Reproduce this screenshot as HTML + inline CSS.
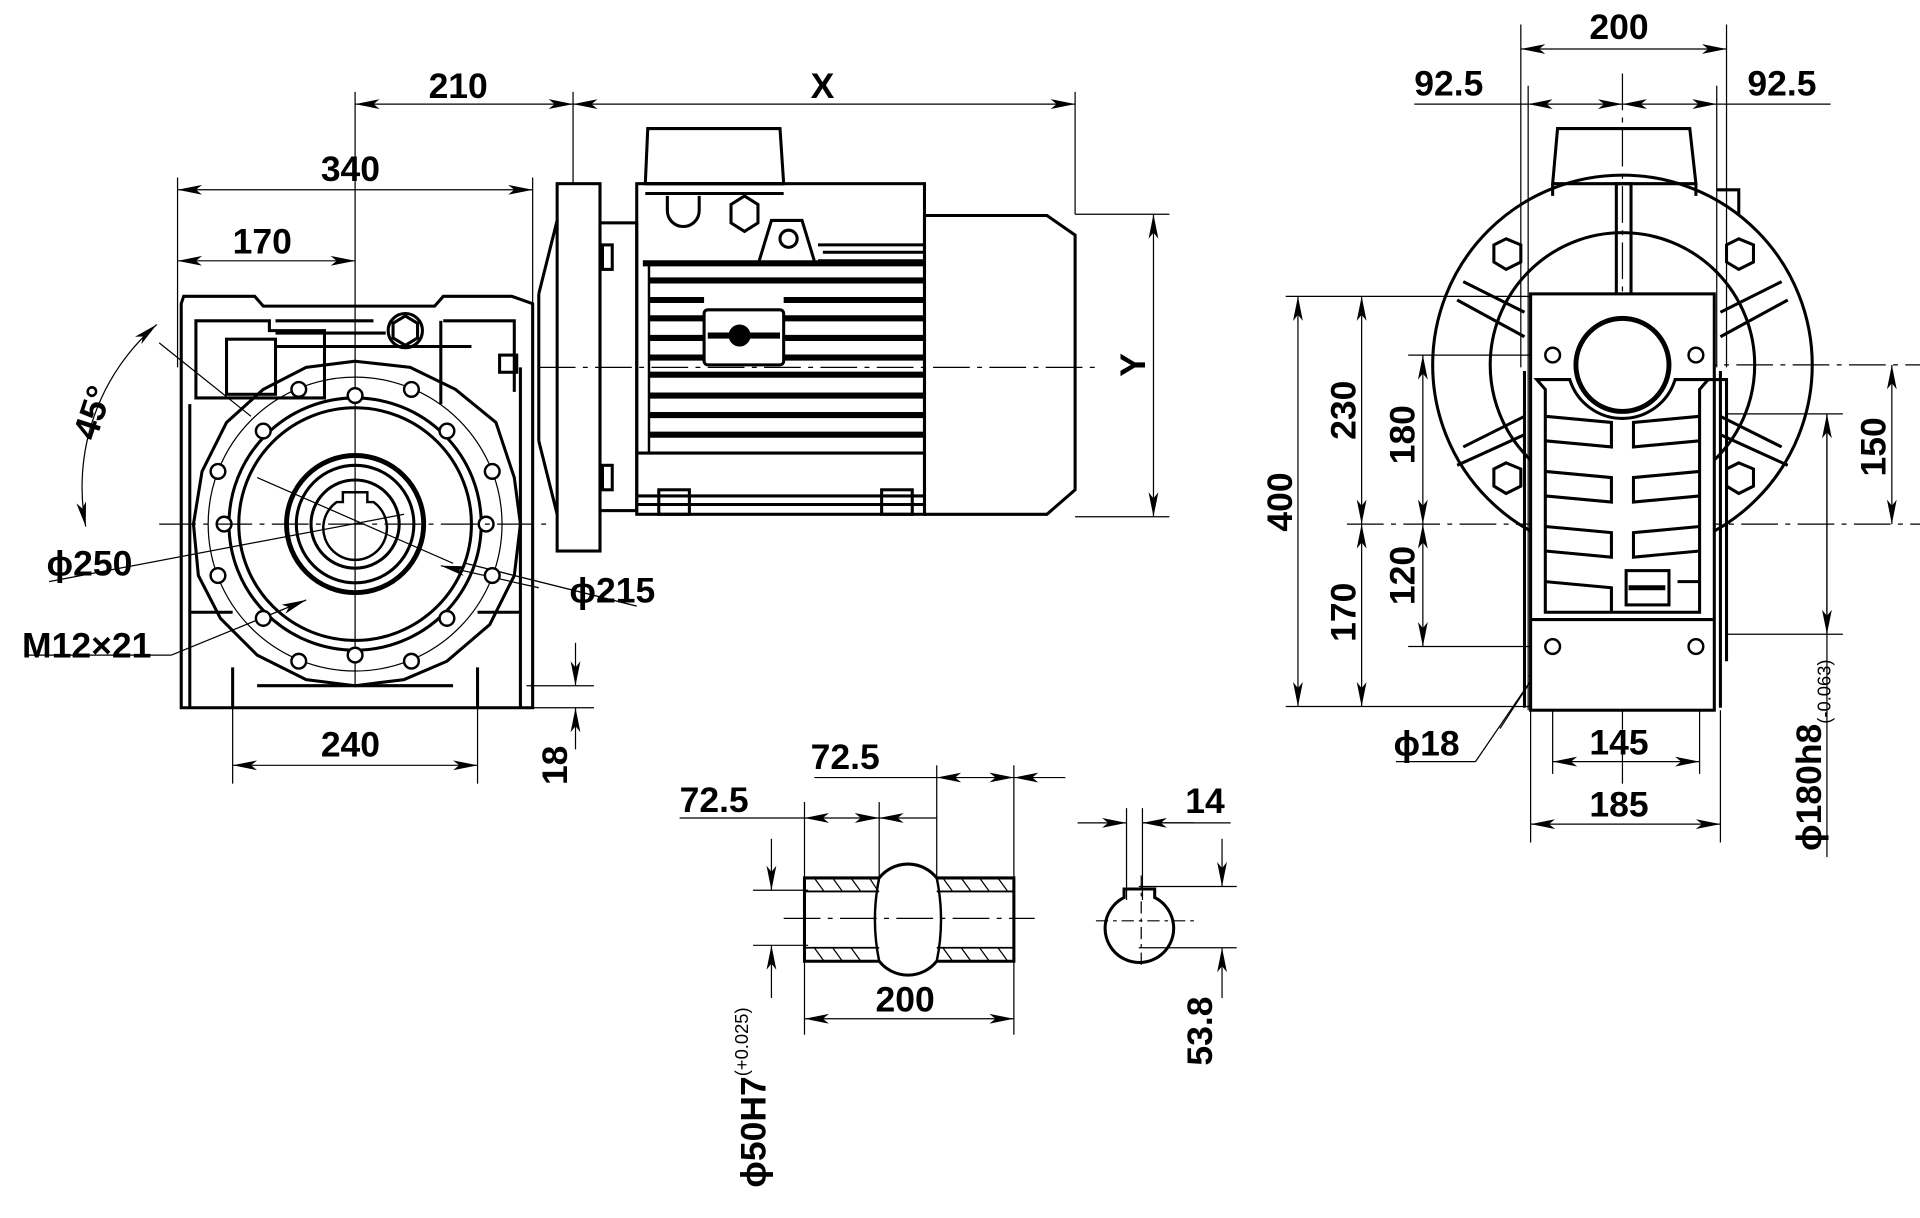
<!DOCTYPE html>
<html><head><meta charset="utf-8"><style>html,body{margin:0;padding:0;background:#fff}svg{display:block}text{font-family:"Liberation Sans",Arial,sans-serif;font-weight:bold;fill:#000}</style></head><body>
<svg width="1920" height="1218" viewBox="0 0 1568 994.7" preserveAspectRatio="none" xmlns="http://www.w3.org/2000/svg">
<defs>
<marker id="a" viewBox="0 0 20 8" refX="20" refY="4" markerWidth="20" markerHeight="8" orient="auto-start-reverse" markerUnits="userSpaceOnUse"><path d="M0,0 L20,4 L0,8 L5,4z" fill="#000"/></marker>
</defs>
<g fill="none" stroke="#000" stroke-width="1">
<line x1="145" y1="145" x2="145" y2="300"/><line x1="435" y1="145" x2="435" y2="250"/>
<line x1="145" y1="155" x2="435" y2="155" marker-start="url(#a)" marker-end="url(#a)"/>
<line x1="145" y1="213" x2="290" y2="213" marker-start="url(#a)" marker-end="url(#a)"/>
<line x1="290" y1="75" x2="290" y2="560"/>
<line x1="468" y1="75" x2="468" y2="150"/><line x1="878" y1="75" x2="878" y2="175"/>
<line x1="290" y1="85" x2="468" y2="85" marker-start="url(#a)" marker-end="url(#a)"/>
<line x1="468" y1="85" x2="878" y2="85" marker-start="url(#a)" marker-end="url(#a)"/>
<line x1="190" y1="578" x2="190" y2="640"/><line x1="390" y1="578" x2="390" y2="640"/>
<line x1="190" y1="625" x2="390" y2="625" marker-start="url(#a)" marker-end="url(#a)"/>
<line x1="430" y1="560" x2="485" y2="560"/><line x1="430" y1="578" x2="485" y2="578"/>
<line x1="470" y1="525" x2="470" y2="560" marker-end="url(#a)"/><line x1="470" y1="612" x2="470" y2="578" marker-end="url(#a)"/>
<line x1="878" y1="175" x2="955" y2="175"/><line x1="878" y1="422" x2="955" y2="422"/>
<line x1="942" y1="175" x2="942" y2="422" marker-start="url(#a)" marker-end="url(#a)"/>
<path d="M128,265 A175,175 0 0 0 70,430" marker-start="url(#a)" marker-end="url(#a)"/>
<line x1="130" y1="280" x2="205" y2="340"/>
<line x1="40" y1="475" x2="330" y2="420"/>
<line x1="20" y1="535" x2="140" y2="535"/><line x1="140" y1="535" x2="250" y2="490" marker-end="url(#a)"/>
<line x1="520" y1="495" x2="380" y2="460" /><line x1="440" y1="480" x2="360" y2="462" marker-end="url(#a)"/>
<line x1="210" y1="390" x2="370" y2="460"/>
</g>
<g fill="none" stroke="#000" stroke-width="2.5">
<path d="M148,248 L148,578 L435,578 L435,248 L418,242 L362,242 L355,250 L215,250 L208,242 L150,242z"/>
<path d="M160,262 L160,325 L265,325 L265,270 L220,270 L220,262z"/>
<rect x="185" y="277" width="40" height="45"/>
<path d="M225,262 L305,262 M225,272 L315,272 M225,283 L385,283 M360,262 L360,330 M362,262 L420,262 L420,320"/>
<circle cx="331" cy="270" r="14"/><polygon points="331,258 341,264 341,276 331,282 321,276 321,264"/>
<rect x="408" y="290" width="14" height="14"/>
<path d="M155,330 L155,578 M155,500 L190,500 M425,300 L425,578 M390,500 L425,500 M190,545 L190,578 M390,545 L390,578 M210,560 L370,560"/>
<path d="M290,295 L335,300 L372,318 L405,345 L420,390 L425,428 L420,470 L400,510 L365,540 L330,555 L290,560 L250,555 L210,535 L180,505 L162,470 L158,428 L165,385 L185,345 L215,318 L250,300z"/>
<circle cx="290" cy="428" r="120" stroke-width="1"/>
<circle cx="290" cy="428" r="103"/><circle cx="290" cy="428" r="95"/>
<circle cx="290" cy="428" r="56" stroke-width="4"/><circle cx="290" cy="428" r="48"/><circle cx="290" cy="428" r="36"/>
<path d="M275,410 A26,26 0 1 0 305,410 L300,410 L300,402 L280,402 L280,410z" stroke-width="2"/>
</g>
<g fill="#fff" stroke="#000" stroke-width="2">
<circle cx="290" cy="323" r="6"/><circle cx="244" cy="318" r="6"/><circle cx="336" cy="318" r="6"/>
<circle cx="215" cy="352" r="6"/><circle cx="365" cy="352" r="6"/>
<circle cx="178" cy="385" r="6"/><circle cx="402" cy="385" r="6"/>
<circle cx="183" cy="428" r="6"/><circle cx="397" cy="428" r="6"/>
<circle cx="178" cy="470" r="6"/><circle cx="402" cy="470" r="6"/>
<circle cx="215" cy="505" r="6"/><circle cx="365" cy="505" r="6"/>
<circle cx="244" cy="540" r="6"/><circle cx="290" cy="535" r="6"/><circle cx="336" cy="540" r="6"/>
</g>
<g stroke="#000" stroke-width="1" stroke-dasharray="30,6,4,6"><line x1="130" y1="428" x2="450" y2="428"/></g>
<g fill="none" stroke="#000" stroke-width="2.5">
<rect x="455" y="150" width="35" height="300"/>
<path d="M440,240 L455,180 M440,360 L455,420 M440,240 L440,360"/>
<rect x="490" y="182" width="30" height="235"/>
<rect x="492" y="200" width="8" height="20"/><rect x="492" y="380" width="8" height="20"/>
<path d="M529,105 L637,105 L640,150 L527,150z"/>
<rect x="520" y="150" width="235" height="270"/>
<path d="M527,150 L640,150 M527,158 L640,158"/>
<path d="M545,160 L545,172 A13,13 0 0 0 571,172 L571,160"/>
<polygon points="608,160 619,167 619,182 608,189 597,182 597,167"/>
<path d="M620,213 L630,180 L655,180 L665,213"/><circle cx="644" cy="195" r="7"/>
<path d="M668,213 L755,213 M668,200 L755,200 M672,206 L755,206"/>
<rect x="575" y="253" width="65" height="45" rx="3"/>
<path d="M520,370 L755,370 M520,405 L755,405 M520,412 L755,412"/>
<rect x="538" y="400" width="25" height="20"/><rect x="720" y="400" width="25" height="20"/>
<path d="M755,176 L855,176 L878,192 L878,400 L855,420 L755,420z"/>
</g>
<g stroke="#000" stroke-width="5">
<line x1="525" y1="215" x2="755" y2="215"/><line x1="530" y1="229" x2="755" y2="229"/><line x1="530" y1="245" x2="575" y2="245"/><line x1="640" y1="245" x2="755" y2="245"/>
<line x1="530" y1="260" x2="575" y2="260"/><line x1="640" y1="260" x2="755" y2="260"/><line x1="530" y1="276" x2="575" y2="276"/><line x1="640" y1="276" x2="755" y2="276"/>
<line x1="530" y1="292" x2="575" y2="292"/><line x1="640" y1="292" x2="755" y2="292"/><line x1="530" y1="306" x2="755" y2="306"/><line x1="530" y1="323" x2="755" y2="323"/>
<line x1="530" y1="339" x2="755" y2="339"/><line x1="530" y1="355" x2="755" y2="355"/>
<line x1="578" y1="274" x2="637" y2="274"/>
</g>
<circle cx="604" cy="274" r="9" fill="#000"/>
<line x1="530" y1="215" x2="530" y2="370" stroke="#000" stroke-width="2"/>
<line x1="440" y1="300" x2="900" y2="300" stroke="#000" stroke-width="1" stroke-dasharray="30,6,4,6"/>
<g fill="none" stroke="#000" stroke-width="1">
<line x1="1242" y1="20" x2="1242" y2="300"/><line x1="1410" y1="20" x2="1410" y2="300"/>
<line x1="1242" y1="40" x2="1410" y2="40" marker-start="url(#a)" marker-end="url(#a)"/>
<line x1="1155" y1="85" x2="1248" y2="85"/><line x1="1248" y1="85" x2="1325" y2="85" marker-start="url(#a)" marker-end="url(#a)"/>
<line x1="1325" y1="85" x2="1402" y2="85" marker-start="url(#a)" marker-end="url(#a)"/><line x1="1402" y1="85" x2="1495" y2="85"/>
<line x1="1248" y1="70" x2="1248" y2="580"/><line x1="1402" y1="70" x2="1402" y2="300"/>
<line x1="1325" y1="60" x2="1325" y2="640" stroke-dasharray="30,6,4,6"/>
<line x1="1050" y1="242" x2="1270" y2="242"/><line x1="1050" y1="577" x2="1250" y2="577"/>
<line x1="1060" y1="242" x2="1060" y2="577" marker-start="url(#a)" marker-end="url(#a)"/>
<line x1="1112" y1="242" x2="1112" y2="428" marker-start="url(#a)" marker-end="url(#a)"/>
<line x1="1112" y1="428" x2="1112" y2="577" marker-start="url(#a)" marker-end="url(#a)"/>
<line x1="1150" y1="290" x2="1270" y2="290"/><line x1="1150" y1="528" x2="1270" y2="528"/>
<line x1="1162" y1="290" x2="1162" y2="428" marker-start="url(#a)" marker-end="url(#a)"/>
<line x1="1162" y1="428" x2="1162" y2="528" marker-start="url(#a)" marker-end="url(#a)"/>
<line x1="1100" y1="428" x2="1568" y2="428" stroke-dasharray="30,6,4,6"/>
<line x1="1280" y1="298" x2="1568" y2="298" stroke-dasharray="30,6,4,6"/>
<line x1="1545" y1="298" x2="1545" y2="428" marker-start="url(#a)" marker-end="url(#a)"/>
<line x1="1410" y1="338" x2="1505" y2="338"/><line x1="1410" y1="518" x2="1505" y2="518"/>
<line x1="1492" y1="338" x2="1492" y2="700" /><line x1="1492" y1="338" x2="1492" y2="518" marker-start="url(#a)" marker-end="url(#a)"/>
<line x1="1268" y1="520" x2="1268" y2="632"/><line x1="1388" y1="520" x2="1388" y2="632"/>
<line x1="1268" y1="622" x2="1388" y2="622" marker-start="url(#a)" marker-end="url(#a)"/>
<line x1="1250" y1="580" x2="1250" y2="688"/><line x1="1405" y1="580" x2="1405" y2="688"/>
<line x1="1250" y1="673" x2="1405" y2="673" marker-start="url(#a)" marker-end="url(#a)"/>
<line x1="1140" y1="622" x2="1205" y2="622"/><line x1="1205" y1="622" x2="1295" y2="490"/>
<line x1="1225" y1="595" x2="1262" y2="538" marker-end="url(#a)"/><line x1="1290" y1="495" x2="1274" y2="518" marker-end="url(#a)"/>
</g>
<g fill="none" stroke="#000" stroke-width="2.5">
<path d="M1272,105 L1380,105 L1385,150 L1268,150z"/>
<path d="M1268,150 L1268,160 M1385,150 L1385,160 M1402,155 L1420,155 L1420,175"/>
<circle cx="1325" cy="298" r="155"/><circle cx="1325" cy="298" r="108"/>
<rect x="1320" y="150" width="12" height="92"/>
<path d="M1195,230 L1245,255 M1190,245 L1245,275 M1455,230 L1405,255 M1460,245 L1405,275 M1195,365 L1245,340 M1190,380 L1245,355 M1455,365 L1405,340 M1460,380 L1405,355"/>
<polygon points="1230,195 1242,200 1242,214 1230,220 1220,214 1220,200"/>
<polygon points="1420,195 1432,200 1432,214 1420,220 1410,214 1410,200"/>
<polygon points="1230,378 1242,383 1242,397 1230,403 1220,397 1220,383"/>
<polygon points="1420,378 1432,383 1432,397 1420,403 1410,397 1410,383"/>
<rect x="1250" y="240" width="150" height="340" fill="#fff"/>
<circle cx="1325" cy="298" r="38" stroke-width="4"/>
<path d="M1255,310 L1282,310 A45,45 0 0 0 1368,310 L1395,310 L1388,318 L1388,500 L1262,500 L1262,318z"/>
<path d="M1245,303 L1245,578 M1405,303 L1405,578 M1250,506 L1400,506 M1395,310 L1410,310 L1410,540"/>
<path d="M1262,340 L1316,345 L1316,365 L1262,360 M1388,340 L1334,345 L1334,365 L1388,360 M1262,385 L1316,390 L1316,410 L1262,405 M1388,385 L1334,390 L1334,410 L1388,405 M1262,430 L1316,435 L1316,455 L1262,450 M1388,430 L1334,435 L1334,455 L1388,450 M1262,475 L1316,480 L1316,500 M1388,475 L1370,475"/>
<rect x="1328" y="466" width="35" height="28"/><line x1="1330" y1="480" x2="1360" y2="480" stroke-width="4"/>
</g>
<g fill="#fff" stroke="#000" stroke-width="2">
<circle cx="1268" cy="290" r="6"/><circle cx="1385" cy="290" r="6"/><circle cx="1268" cy="528" r="6"/><circle cx="1385" cy="528" r="6"/>
</g>
<g fill="none" stroke="#000" stroke-width="1">
<line x1="657" y1="655" x2="657" y2="845"/><line x1="828" y1="625" x2="828" y2="845"/>
<line x1="718" y1="655" x2="718" y2="720"/><line x1="765" y1="625" x2="765" y2="720"/>
<line x1="555" y1="668" x2="657" y2="668"/><line x1="657" y1="668" x2="718" y2="668" marker-start="url(#a)" marker-end="url(#a)"/><line x1="718" y1="668" x2="765" y2="668" marker-start="url(#a)"/>
<line x1="665" y1="635" x2="765" y2="635"/><line x1="765" y1="635" x2="828" y2="635" marker-start="url(#a)" marker-end="url(#a)"/><line x1="828" y1="635" x2="870" y2="635" marker-start="url(#a)"/>
<line x1="657" y1="832" x2="828" y2="832" marker-start="url(#a)" marker-end="url(#a)"/>
<line x1="615" y1="727" x2="660" y2="727"/><line x1="615" y1="772" x2="660" y2="772"/>
<line x1="630" y1="685" x2="630" y2="727" marker-end="url(#a)"/><line x1="630" y1="815" x2="630" y2="772" marker-end="url(#a)"/>
<line x1="640" y1="750" x2="845" y2="750" stroke-dasharray="30,6,4,6"/>
<line x1="920" y1="660" x2="920" y2="735"/><line x1="933" y1="660" x2="933" y2="735"/>
<line x1="880" y1="672" x2="920" y2="672" marker-end="url(#a)"/><line x1="975" y1="672" x2="933" y2="672" marker-end="url(#a)"/><line x1="933" y1="672" x2="1005" y2="672"/>
<line x1="930" y1="724" x2="1010" y2="724"/><line x1="930" y1="774" x2="1010" y2="774"/>
<line x1="998" y1="685" x2="998" y2="724" marker-end="url(#a)"/><line x1="998" y1="815" x2="998" y2="774" marker-end="url(#a)"/>
<line x1="895" y1="752" x2="975" y2="752" stroke-dasharray="10,4,3,4"/><line x1="932" y1="715" x2="932" y2="790" stroke-dasharray="10,4,3,4"/>
</g>
<g fill="none" stroke="#000" stroke-width="2.5">
<path d="M657,717 L718,717 A30,30 0 0 1 765,717 L828,717 L828,785 L765,785 A30,30 0 0 1 718,785 L657,785z"/>
<path d="M657,728 L718,728 M765,728 L828,728 M657,774 L718,774 M765,774 L828,774" stroke-width="1.5"/>
<path d="M718,717 Q711,751 718,785 M765,717 Q772,751 765,785" stroke-width="2"/>
<path d="M920,726 L920,733 A28,28 0 1 0 945,733 L945,726 Z" transform="translate(-2,0)"/>
</g>
<g stroke="#000" stroke-width="1">
<path d="M665,717 l8,11 M680,717 l8,11 M695,717 l8,11 M710,717 l6,9 M770,717 l8,11 M785,717 l8,11 M800,717 l8,11 M815,717 l8,11 M665,774 l8,11 M680,774 l8,11 M695,774 l8,11 M770,774 l8,11 M785,774 l8,11 M800,774 l8,11 M815,774 l8,11"/>
</g>
<g font-size="29">
<text x="350" y="80">210</text><text x="662" y="80">X</text>
<text x="262" y="148">340</text><text x="190" y="207">170</text>
<text x="262" y="618">240</text>
<text x="1298" y="32">200</text><text x="1155" y="78">92.5</text><text x="1427" y="78">92.5</text>
<text x="662" y="628">72.5</text><text x="555" y="663">72.5</text>
<text x="715" y="826">200</text><text x="968" y="664">14</text>
<text x="1298" y="616">145</text><text x="1298" y="667">185</text>
<text x="18" y="537">M12×21</text>
<text x="38" y="470">ϕ250</text><text x="465" y="492">ϕ215</text>
<text x="1138" y="617">ϕ18</text>
<text transform="translate(935,298) rotate(-90)" text-anchor="middle">Y</text>
<text transform="translate(463,625) rotate(-90)" text-anchor="middle">18</text>
<text transform="translate(1107,335) rotate(-90)" text-anchor="middle">230</text>
<text transform="translate(1055,410) rotate(-90)" text-anchor="middle">400</text>
<text transform="translate(1155,355) rotate(-90)" text-anchor="middle">180</text>
<text transform="translate(1107,500) rotate(-90)" text-anchor="middle">170</text>
<text transform="translate(1155,470) rotate(-90)" text-anchor="middle">120</text>
<text transform="translate(1540,365) rotate(-90)" text-anchor="middle">150</text>
<text transform="translate(990,842) rotate(-90)" text-anchor="middle">53.8</text>
<text transform="translate(85,340) rotate(-72)" text-anchor="middle">45°</text>
<text transform="translate(625,970) rotate(-90)">ϕ50H7<tspan font-size="15" font-weight="normal" dy="-14">(+0.025)</tspan></text>
<text transform="translate(1487,695) rotate(-90)">ϕ180h8<tspan font-size="15" font-weight="normal" dy="8">(-0.063)</tspan></text>
</g>
</svg>
</body></html>
